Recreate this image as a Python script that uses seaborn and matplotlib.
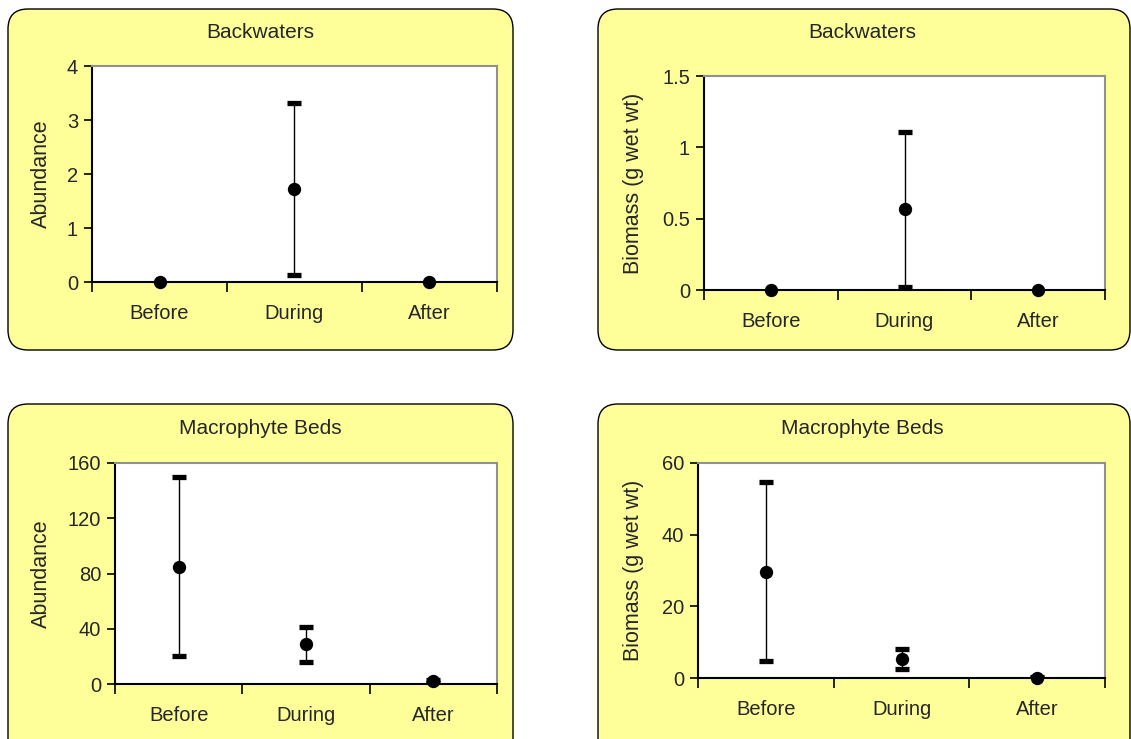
import numpy as np
import pandas as pd
import matplotlib
matplotlib.use("Agg")
import matplotlib.pyplot as plt
import seaborn as sns
from matplotlib.patches import FancyBboxPatch

sns.set_theme(style="white")
plt.rcParams["font.family"] = ["Liberation Sans", "DejaVu Sans"]

periods = ["Before", "During", "After"]

titles = ["Backwaters", "Backwaters", "Macrophyte Beds", "Macrophyte Beds"]
ylabels = ["Abundance", "Biomass (g wet wt)", "Abundance", "Biomass (g wet wt)"]

bw_abund_mean = [0.0, 1.72, 0.0]
bw_abund_low = [0.0, 0.13, 0.0]
bw_abund_high = [0.0, 3.31, 0.0]

bw_bio_mean = [0.0, 0.57, 0.0]
bw_bio_low = [0.0, 0.02, 0.0]
bw_bio_high = [0.0, 1.11, 0.0]

mb_abund_mean = [85.0, 28.7, 2.0]
mb_abund_low = [20.0, 16.2, 1.0]
mb_abund_high = [150.0, 41.0, 3.0]

mb_bio_mean = [29.5, 5.3, 0.1]
mb_bio_low = [4.8, 2.5, 0.0]
mb_bio_high = [54.6, 8.2, 0.2]

yticks_list = [
    [0, 1, 2, 3, 4],
    [0, 0.5, 1, 1.5],
    [0, 40, 80, 120, 160],
    [0, 20, 40, 60],
]
ytick_labels_list = [
    ["0", "1", "2", "3", "4"],
    ["0", "0.5", "1", "1.5"],
    ["0", "40", "80", "120", "160"],
    ["0", "20", "40", "60"],
]

series = [
    (bw_abund_mean, bw_abund_low, bw_abund_high),
    (bw_bio_mean, bw_bio_low, bw_bio_high),
    (mb_abund_mean, mb_abund_low, mb_abund_high),
    (mb_bio_mean, mb_bio_low, mb_bio_high),
]

W, H = 1131, 739
fig = plt.figure(figsize=(W / 100, H / 100), dpi=100)
fig.patch.set_facecolor("white")

# panel boxes (pixels: x0, y0top, x1, y1bottom)
boxes = [(8, 9, 513, 350), (598, 9, 1130, 350), (8, 404, 513, 770), (598, 404, 1130, 770)]
# axes rectangles in pixels: x0, ytop, x1, ybottom
axes_px = [(92, 66, 497, 282), (704, 76, 1105, 290), (115, 463, 497, 684), (698, 463, 1105, 678)]
title_px = [(260, 32), (862, 32), (260, 428), (862, 428)]
ylabel_x = [41, 633, 41, 633]

yellow = "#FFFF99"

for (x0, y0, x1, y1) in boxes:
    r = 20
    box = FancyBboxPatch(
        (x0 / 100 + r / 100, (H - y1) / 100 + r / 100),
        (x1 - x0 - 2 * r) / 100, (y1 - y0 - 2 * r) / 100,
        boxstyle=f"round,pad={r/100},rounding_size={r/100}",
        transform=fig.dpi_scale_trans, facecolor=yellow, edgecolor="black",
        linewidth=1.0, zorder=-5)
    fig.patches.append(box)

for i in range(4):
    x0, yt, x1, yb = axes_px[i]
    ax = fig.add_axes([x0 / W, (H - yb) / H, (x1 - x0) / W, (yb - yt) / H])
    ax.set_zorder(2)
    ax.set_facecolor("white")
    mean, low, high = series[i]
    df = pd.DataFrame({"period": periods, "x": [0.5, 1.5, 2.5], "mean": mean,
                       "low": low, "high": high})
    err = df[df["high"] > df["low"]]
    yerr = np.array([err["mean"] - err["low"], err["high"] - err["mean"]])
    ax.errorbar(err["x"], err["mean"], yerr=yerr, fmt="none", ecolor="black",
                elinewidth=1.0, capsize=5.2, capthick=3.8, zorder=3)
    sns.scatterplot(data=df, x="x", y="mean", ax=ax, color="black", s=92,
                    edgecolor="black", linewidth=0, zorder=4, clip_on=False)
    ax.set_xlim(0, 3)
    yt_vals = yticks_list[i]
    ax.set_ylim(yt_vals[0], yt_vals[-1])
    ax.set_yticks(yt_vals)
    ax.set_yticklabels(ytick_labels_list[i], fontsize=14.5)
    ax.set_xticks([0, 1, 2, 3])
    ax.set_xticklabels([])
    ax.set_xticks([0.5, 1.5, 2.5], minor=True)
    ax.set_xticklabels(periods, minor=True, fontsize=14.5)
    ax.tick_params(axis="x", which="major", direction="out", length=7, width=1.2,
                   color="black", bottom=True)
    ax.tick_params(axis="x", which="minor", length=0, pad=16, bottom=True)
    ax.tick_params(axis="y", which="major", direction="out", length=6, width=1.2,
                   color="black", left=True, pad=4)
    for side in ["top", "right"]:
        ax.spines[side].set_color("#909090")
        ax.spines[side].set_linewidth(1.5)
    for side in ["left", "bottom"]:
        ax.spines[side].set_color("black")
        ax.spines[side].set_linewidth(1.5)
    ax.set_xlabel("")
    ax.set_ylabel(ylabels[i], fontsize=15.5)
    ax.yaxis.set_label_coords((ylabel_x[i] - x0) / (x1 - x0), 0.5)
    ax.yaxis.label.set_va("center")
    tx, ty = title_px[i]
    fig.text(tx / W, 1 - ty / H, titles[i], ha="center", va="center", fontsize=15)

fig.savefig("out.png", dpi=100)
